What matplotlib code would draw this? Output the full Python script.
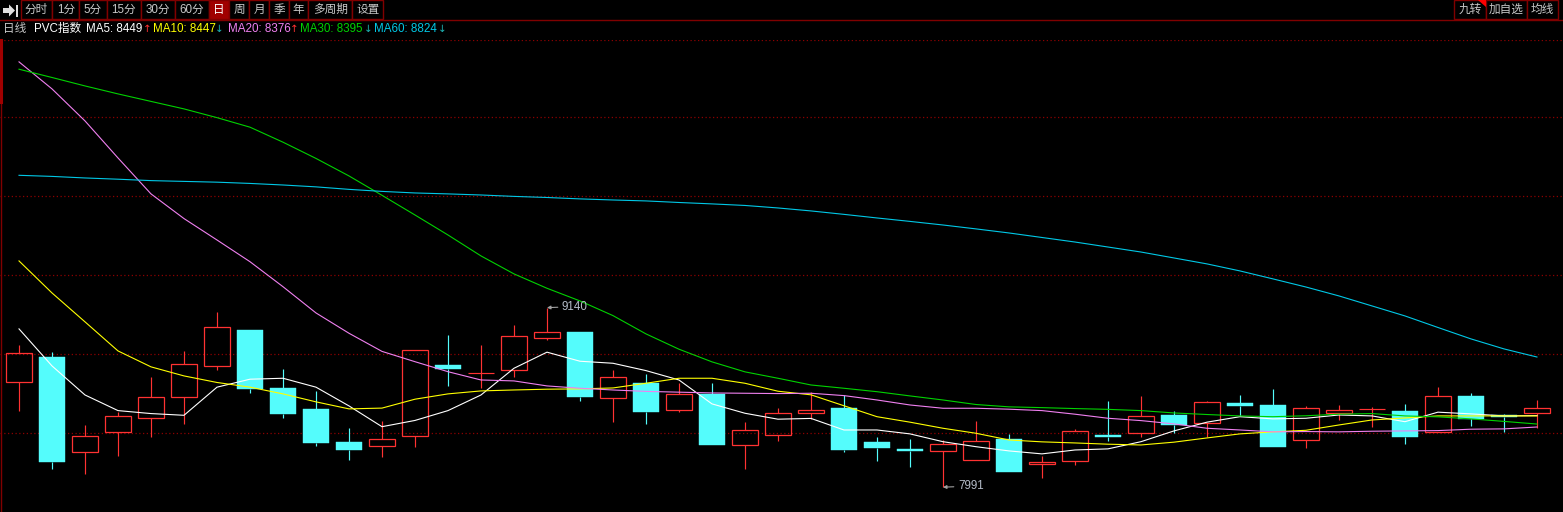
import matplotlib.pyplot as plt
from matplotlib.patches import Polygon, Rectangle

plt.rcParams['font.family'] = ['Liberation Sans', 'Noto Sans CJK SC', 'DejaVu Sans']

# daily candles, oldest first
opens = [8663, 8825, 8215, 8343, 8432, 8567, 8765, 8997, 8626, 8492, 8281, 8253,
         8317, 8773, 8720, 8739, 8944, 8985, 8560, 8658, 8483, 8590, 8259, 8323,
         8464, 8498, 8281, 8236, 8221, 8167, 8300, 8138, 8157, 8325, 8336, 8453,
         8400, 8530, 8517, 8291, 8464, 8490, 8479, 8343, 8575, 8451, 8464]
highs = [8901, 8855, 8387, 8474, 8695, 8863, 9113, 8997, 8748, 8607, 8370, 8415,
         8867, 8965, 8901, 9029, 9140, 8985, 8741, 8716, 8656, 8658, 8409, 8498,
         8599, 8581, 8313, 8300, 8291, 8415, 8332, 8191, 8364, 8543, 8575, 8479,
         8543, 8581, 8620, 8511, 8517, 8503, 8524, 8633, 8592, 8460, 8549]
lows = [8481, 8110, 8078, 8193, 8314, 8398, 8741, 8596, 8436, 8257, 8167, 8186,
        8250, 8641, 8628, 8695, 8935, 8545, 8410, 8398, 8474, 8263, 8110, 8289,
        8426, 8219, 8161, 8122, 7991, 8167, 8090, 8052, 8135, 8287, 8314, 8340,
        8314, 8447, 8250, 8244, 8423, 8378, 8270, 8343, 8385, 8346, 8372]
closes = [8848, 8154, 8317, 8445, 8567, 8778, 9015, 8620, 8462, 8276, 8231, 8298,
          8867, 8750, 8720, 8957, 8983, 8570, 8695, 8474, 8588, 8263, 8355, 8464,
          8483, 8231, 8244, 8225, 8268, 8285, 8090, 8153, 8351, 8314, 8447, 8391,
          8535, 8513, 8250, 8496, 8483, 8490, 8314, 8575, 8428, 8442, 8496]

# moving averages as shown on the chart
ma5 = [9004, 8767, 8581, 8481, 8462, 8451, 8631, 8682, 8688, 8631, 8511, 8378,
       8418, 8481, 8581, 8752, 8855, 8797, 8784, 8737, 8677, 8524, 8464, 8426,
       8431, 8357, 8357, 8332, 8282, 8250, 8223, 8204, 8229, 8236, 8282, 8351,
       8407, 8442, 8428, 8432, 8453, 8447, 8410, 8471, 8460, 8447, 8449]
ma10 = [9439, 9234, 9049, 8863, 8761, 8703, 8661, 8631, 8588, 8537, 8492, 8497,
        8554, 8588, 8607, 8613, 8618, 8620, 8626, 8656, 8688, 8688, 8656, 8605,
        8582, 8512, 8442, 8407, 8368, 8336, 8293, 8281, 8274, 8266, 8261, 8279,
        8306, 8332, 8345, 8355, 8389, 8421, 8434, 8447, 8447, 8447, 8447]
ma20 = [10713, 10540, 10335, 10098, 9868, 9710, 9573, 9434, 9274, 9106, 8976, 8860,
        8794, 8730, 8677, 8671, 8639, 8624, 8613, 8604, 8599, 8594, 8592, 8590,
        8592, 8577, 8549, 8517, 8496, 8496, 8490, 8481, 8458, 8432, 8417, 8396,
        8368, 8357, 8345, 8347, 8345, 8349, 8351, 8353, 8362, 8364, 8376]
ma30 = [10666, 10613, 10559, 10508, 10460, 10412, 10356, 10295, 10199, 10095, 9983, 9859,
        9733, 9605, 9471, 9356, 9264, 9183, 9089, 8972, 8874, 8793, 8729, 8688,
        8645, 8624, 8602, 8575, 8549, 8520, 8505, 8500, 8494, 8489, 8481, 8466,
        8456, 8447, 8442, 8448, 8458, 8462, 8447, 8441, 8428, 8412, 8395]
ma60 = [9987, 9980, 9970, 9962, 9953, 9948, 9943, 9935, 9925, 9913, 9897, 9884,
        9874, 9868, 9861, 9852, 9845, 9836, 9829, 9823, 9813, 9804, 9794, 9778,
        9759, 9737, 9714, 9692, 9669, 9644, 9618, 9589, 9560, 9528, 9496, 9458,
        9420, 9375, 9324, 9272, 9215, 9151, 9087, 9013, 8940, 8876, 8824]

grid_levels = [8336, 8844, 9347, 9853, 10359, 10853]

ma_list = [('MA5', ma5, 'white', '#ff3232', '↑'),
           ('MA10', ma10, '#ffff00', '#1eb4b4', '↓'),
           ('MA20', ma20, '#f080f0', '#ff3232', '↑'),
           ('MA30', ma30, '#00d200', '#1eb4b4', '↓'),
           ('MA60', ma60, '#00c8e6', '#1eb4b4', '↓')]

buttons = ['分时', '1分', '5分', '15分', '30分', '60分', '日', '周', '月', '季', '年', '多周期', '设置']
button_edges = [20.7, 52.3, 79.3, 106.7, 140.7, 175, 209, 228.7, 249.3, 269.3, 288.7, 308.3, 352.3, 383.3]
right_buttons = ['九转', '加自选', '均线']
right_edges = [1454.3, 1485.7, 1527, 1558.3]

RED = '#ff3232'
CYAN = '#54fcfc'
DARKRED = '#8c0000'
FS = 8.4

W, H = 1563, 512
fig = plt.figure(figsize=(W / 100, H / 100), dpi=100, facecolor='black')

ax = fig.add_axes([0, 0, 1, 472 / 512])
ax.set_facecolor('black')
ax.set_axis_off()
n = len(closes)
ax.set_xlim(-0.576, 46.79)
ax.set_ylim(7832, 10853)

for g in grid_levels:
    ax.axhline(g, color=DARKRED, lw=0.9, ls=(0, (1, 2)), zorder=0)

for i in range(n):
    o, h, l, c = opens[i], highs[i], lows[i], closes[i]
    up = c >= o
    col = RED if up else CYAN
    top, bot = max(o, c), min(o, c)
    ax.vlines(i, top, h, color=col, lw=0.85, zorder=2)
    ax.vlines(i, l, bot, color=col, lw=0.85, zorder=2)
    if top == bot:
        ax.hlines(c, i - 0.4, i + 0.4, color=col, lw=0.85, zorder=2)
    elif up:
        ax.bar(i, top - bot, bottom=bot, width=0.78, facecolor='none',
               edgecolor=col, lw=0.9, zorder=2)
    else:
        ax.bar(i, top - bot, bottom=bot, width=0.8, facecolor=col,
               edgecolor=col, lw=0.3, zorder=2)

for name, vals, col, _, _ in ma_list:
    ax.plot(range(n), vals, color=col, lw=0.8, zorder=3)

# max / min markers
hi = max(range(n), key=lambda i: highs[i])
lo = min(range(n), key=lambda i: lows[i])
for idx, val in [(hi, highs[hi]), (lo, lows[lo])]:
    ax.annotate(str(val), xy=(idx, val), xytext=(15, 1), textcoords='offset pixels',
                color='#b4bcc8', fontsize=FS, ha='left', va='center', zorder=4,
                arrowprops=dict(arrowstyle='-|>', color='#a0a0a0', lw=0.8,
                                shrinkA=1, shrinkB=0, mutation_scale=5))

# toolbar and header drawn in pixel space
ui = fig.add_axes([0, 0, 1, 1], zorder=5)
ui.set_xlim(0, W)
ui.set_ylim(H, 0)
ui.set_axis_off()
ui.patch.set_alpha(0)

ui.plot([0, W], [19.5, 19.5], color='#800000', lw=1)
ui.plot([1, 1], [40, H], color='#800000', lw=1)
ui.plot([1, 1], [40, 102], color='#a00000', lw=2.2)

ui.add_patch(Polygon([(3, 8), (9, 8), (9, 4.5), (15, 10.5), (9, 16.5), (9, 13), (3, 13)],
                     closed=True, facecolor='#e0e0e0', edgecolor='none'))
ui.add_patch(Rectangle((15.5, 4.5), 2.5, 12, facecolor='#e0e0e0', edgecolor='none'))

for k, lab in enumerate(buttons):
    x0, x1 = button_edges[k], button_edges[k + 1]
    sel = lab == '日'
    ui.add_patch(Rectangle((x0, 0), x1 - x0, 19, facecolor='#a00000' if sel else 'black',
                           edgecolor='#800000', lw=1))
    ui.text((x0 + x1) / 2, 10, lab, color='white' if sel else '#c8c8c8',
            fontsize=FS, ha='center', va='center')
for k, lab in enumerate(right_buttons):
    x0, x1 = right_edges[k], right_edges[k + 1]
    ui.add_patch(Rectangle((x0, 0), x1 - x0, 19, facecolor='black', edgecolor='#800000', lw=1))
    ui.text((x0 + x1) / 2, 10, lab, color='#c8c8c8', fontsize=FS, ha='center', va='center')
ui.add_patch(Polygon([(1478, 0), (1485.5, 0), (1485.5, 7)], closed=True,
                     facecolor='#ff0000', edgecolor='none'))

ui.text(3, 29, '日线', color='#c8c8c8', fontsize=FS, ha='left', va='center')
ui.text(34, 29, 'PVC指数', color='white', fontsize=FS, ha='left', va='center')
head_x = [86.5, 153, 228, 299.5, 374]
arrow_x = [142.5, 215, 289.5, 364, 438]
for k, (name, vals, col, acol, arr) in enumerate(ma_list):
    ui.text(head_x[k], 29, f'{name}: {vals[-1]}', color=col, fontsize=FS, ha='left', va='center')
    ui.text(arrow_x[k], 29, arr, color=acol, fontsize=7.5, ha='left', va='center',
            family='DejaVu Sans')

fig.savefig('out.png', dpi=100, facecolor='black')
